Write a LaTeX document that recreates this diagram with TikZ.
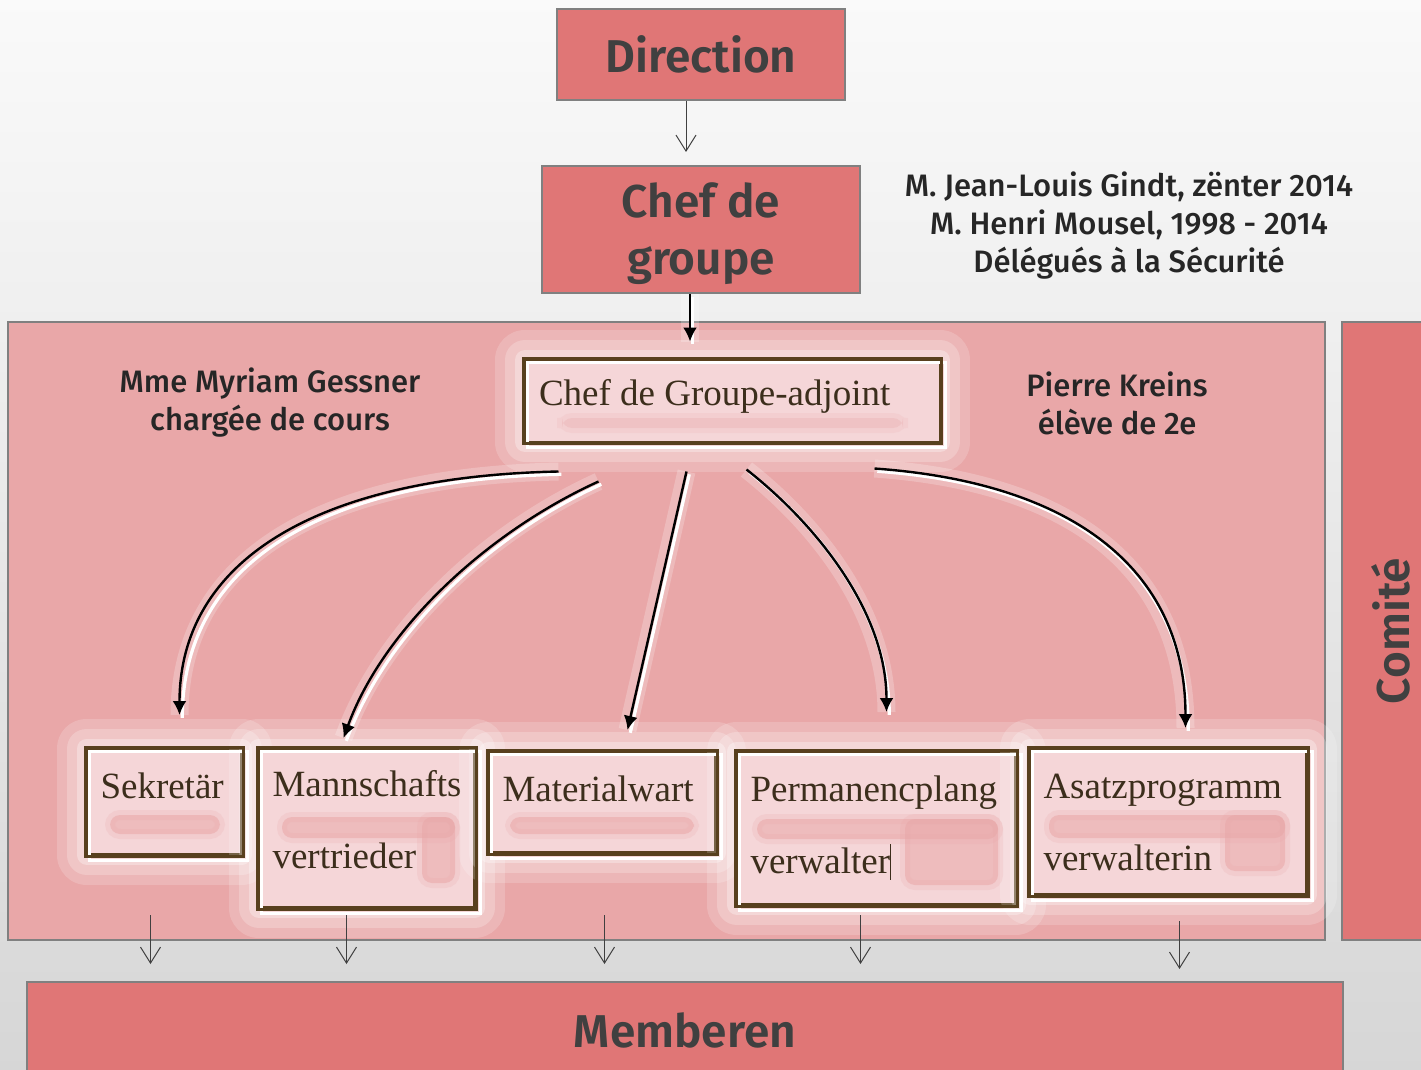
\documentclass[tikz,border=0pt]{standalone}
\usepackage{fontspec}
\setsansfont{Fira Sans}
\newfontfamily\notefont{Fira Sans}[UprightFont={* Medium}]
\newfontfamily\labelfont{Fira Sans}[UprightFont={* SemiBold}]
\newfontfamily\boxfont{Liberation Serif}
\usetikzlibrary{arrows.meta}

\definecolor{boxred}{RGB}{224,118,118}
\definecolor{zonepink}{RGB}{233,167,168}
\definecolor{subpink}{RGB}{245,214,216}
\definecolor{brownline}{RGB}{88,64,30}
\definecolor{browntext}{RGB}{60,46,28}
\definecolor{labelgray}{RGB}{64,64,64}
\definecolor{framegray}{RGB}{128,128,128}

% text block of a framed box: width, height, first baseline, text
\newcommand\boxtext[4]{\parbox[c][#2][t]{#1}{\leftskip=7pt\rule{0pt}{#3}#4}}

\tikzset{
  redbox/.style={fill=boxred, draw=framegray, line width=1pt, text=labelgray,
    font=\labelfont\fontsize{23}{28.5}\selectfont, align=center, inner sep=0pt},
  subbox/.style={fill=subpink, draw=brownline, line width=1.5pt, inner sep=0pt,
    anchor=north west, text=browntext, font=\boxfont\fontsize{18.5}{36}\selectfont,
    preaction={draw=white, line width=30pt, opacity=.18, line join=round},
    preaction={draw=white, line width=20pt, opacity=.22, line join=round},
    preaction={draw=white, line width=10pt, opacity=.3, line join=round}},
  smudge/.style={fill=zonepink, fill opacity=.55, draw=zonepink, draw opacity=.2,
    line width=5pt, rounded corners=5pt},
  note/.style={font=\notefont\fontsize{15.5}{19}\selectfont, text=black!85, align=center},
  thinarrow/.style={draw=black!75, line width=.5pt, -{Straight Barb[length=8pt,width=10pt]}},
  thickarrow/.style={draw=black, line width=1.2pt, -{Latex[length=7pt,width=7pt]},
    preaction={draw=white, line width=9pt, opacity=.22, arrows=-},
    preaction={draw=white, line width=1.6pt, arrows=-, transform canvas={shift={(1.4pt,-1.4pt)}}}}
}

\begin{document}
\begin{tikzpicture}[x=0.5pt, y=-0.5pt]
\useasboundingbox (0,0) rectangle (1421,1070);
% backdrop and group area
\shade[top color=white!98!black, bottom color=white!84!black] (0,0) rectangle (1421,1070);
\filldraw[fill=zonepink, draw=framegray, line width=1pt] (8,322) rectangle (1325,940);

\node[redbox, minimum width=144pt, minimum height=45.5pt] (direction) at (701,54.5) {Direction};
\node[redbox, minimum width=159pt, minimum height=63.5pt] (chef) at (701,229.5) {\rule{0pt}{22pt}Chef de\\groupe};
\node[redbox, rotate=90, minimum width=309pt, minimum height=49pt] (comite) at (1391,631) {Comité};
\node[redbox, minimum width=658pt, minimum height=48pt] (memberen) at (685,1030) {Memberen};

\node[note] (deleg) at (1129,226) {M. Jean-Louis Gindt, zënter 2014\\M. Henri Mousel, 1998 - 2014\\Délégués à la Sécurité};
\node[note] (gessner) at (270,403) {Mme Myriam Gessner\\chargée de cours};
\node[note] (kreins) at (1117,403) {Pierre Kreins\\élève de 2e};

% framed boxes
\node[subbox, anchor=center] (adjoint) at (732.5,401) {\boxtext{207.5pt}{41pt}{22.5pt}{Chef de Groupe-adjoint}};
\node[subbox] (sek) at (85,747) {\boxtext{77.5pt}{53pt}{25pt}{Sekretär}};
\node[subbox] (mann) at (257,747) {\boxtext{108pt}{79.5pt}{24pt}{Mannschafts\\vertrieder}};
\node[subbox] (mat) at (487,750) {\boxtext{113.5pt}{50.5pt}{25pt}{Materialwart}};
\node[subbox] (perm) at (735,750) {\boxtext{139.5pt}{76.5pt}{25pt}{Permanencplang\\verwalter\rule[-3pt]{0.5pt}{18pt}}};
\node[subbox] (asatz) at (1028,747) {\boxtext{138.5pt}{73pt}{25pt}{Asatzprogramm\\verwalterin}};

% blurred marks inside the boxes
\foreach \xa/\ya/\xb/\yb in {110/815/220/834, 282/817/455/838, 422/817/455/883, 510/817/694/834,
    757/819/998/839, 905/819/998/885, 1049/815/1285/838, 1225/815/1285/871}
  \filldraw[smudge] (\xa,\ya) rectangle (\xb,\yb);
\filldraw[smudge, fill opacity=.3, draw opacity=.15] (562,418) rectangle (903,428);

% white offset frame, then the dark frame again on top
\foreach \n in {adjoint,sek,mann,mat,perm,asatz}{
  \draw[white, line width=1.5pt] ([shift={(4,4)}]\n.north west) rectangle ([shift={(4,4)}]\n.south east);
  \draw[brownline, line width=1.5pt] (\n.north west) rectangle (\n.south east);
}

% connectors
\coordinate (dirout) at ([xshift=-7.5pt]direction.south);
\draw[thinarrow, shorten >=6.5pt] (dirout) -- (dirout |- chef.north);
\coordinate (chefout) at ([xshift=-5.5pt]chef.south);
\draw[thickarrow, shorten >=8.5pt] (chefout) -- (chefout |- adjoint.north);

\draw[thickarrow] ([shift={(35,28)}]adjoint.south west) .. controls +(-240,5) and +(0,-155) .. ([shift={(15.5,-32)}]sek.north);
\draw[thickarrow] ([shift={(75,38)}]adjoint.south west) .. controls +(-110,50) and +(40,-110) .. ([shift={(-23,-9)}]mann.north);
\draw[thickarrow] ([shift={(163,28)}]adjoint.south west) -- ([shift={(25.5,-20)}]mat.north);
\draw[thickarrow] ([shift={(223,26)}]adjoint.south west) .. controls +(70,55) and +(0,-100) .. ([shift={(10.5,-38)}]perm.north);
\draw[thickarrow] ([shift={(351,25)}]adjoint.south west) .. controls +(210,15) and +(0,-150) .. ([shift={(17.5,-19)}]asatz.north);

\foreach \n/\dx/\dy/\gap in {sek/-13.5/59/8.5pt, mann/-20/6/8.5pt, mat/2.5/61/8.5pt, perm/-15.5/9/8.5pt, asatz/11.5/25/6pt}
  \draw[thinarrow, shorten >=\gap] ([shift={(\dx,\dy)}]\n.south) coordinate (top\n) -- (top\n |- memberen.north);
\end{tikzpicture}
\end{document}
